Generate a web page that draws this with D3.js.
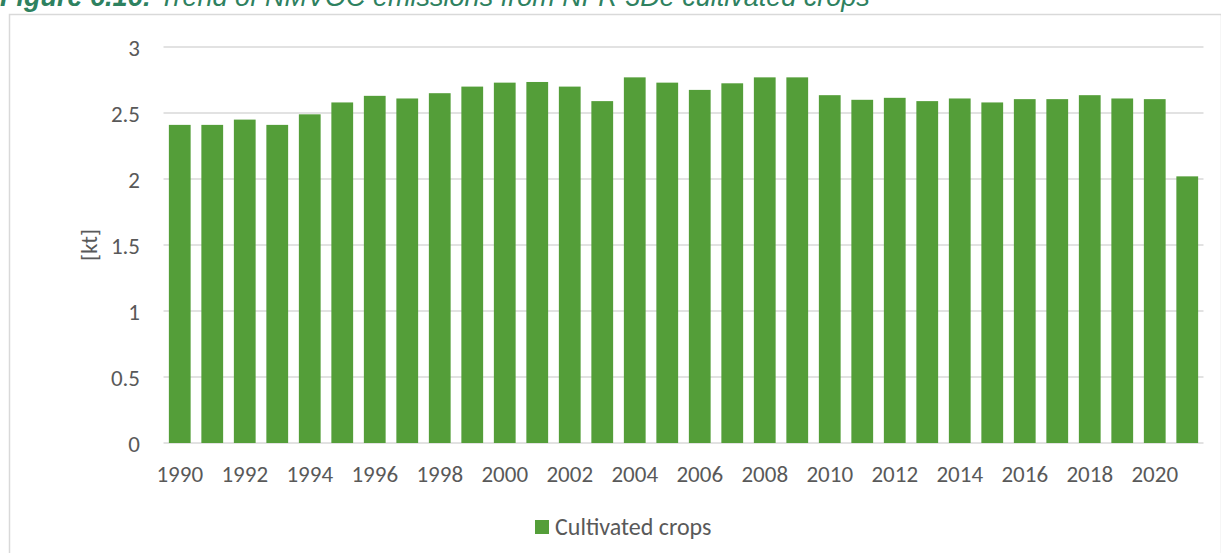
<!DOCTYPE html>
<html><head><meta charset="utf-8">
<script src="https://cdn.jsdelivr.net/npm/d3@7"></script>
<style>body{margin:0;background:#fff;} svg{display:block;}</style>
</head><body>
<svg id="c" width="1221" height="553"></svg>
<script>
const years = d3.range(1990, 2022).map(String);
const values = [2.41,2.41,2.45,2.41,2.49,2.58,2.63,2.61,2.65,2.70,2.73,2.735,2.70,2.59,2.77,2.73,2.675,2.725,2.77,2.77,2.635,2.60,2.615,2.59,2.61,2.58,2.605,2.605,2.635,2.61,2.605,2.02];
const yTicks = [0,0.5,1,1.5,2,2.5,3];
const seriesName = "Cultivated crops";
const titleBold = "Figure 6.16:";
const titleRest = " Trend of NMVOC emissions from NFR 3De cultivated crops";
const yLabel = "[kt]";

const svg = d3.select("#c");
const font = "Carlito, Calibri, Lato, 'Open Sans', sans-serif";
const txt = "#595959";
const green = "#549e39";

// chart area border
svg.append("rect").attr("x",9.5).attr("y",14.5).attr("width",1212).attr("height",600)
  .attr("fill","#fff").attr("stroke","#d9d9d9").attr("stroke-width",1.5);

// title (clipped at top)
const t = svg.append("text").attr("x",0).attr("y",5.5)
  .attr("font-family","'Liberation Sans', Arial, sans-serif").attr("font-size",27)
  .attr("font-style","italic").attr("fill","#2e8160");
t.append("tspan").attr("font-weight","bold").text(titleBold);
t.append("tspan").text(titleRest);

const m = {left:163.5, right:1203.5, top:47, bottom:443};
const x = d3.scaleBand().domain(years).range([m.left, m.right]).padding(0);
const y = d3.scaleLinear().domain([0,3]).range([m.bottom, m.top]);

// gridlines
svg.append("g").selectAll("line").data(yTicks).join("line")
  .attr("x1",m.left).attr("x2",m.right)
  .attr("y1",d=>y(d)).attr("y2",d=>y(d))
  .attr("stroke","#d9d9d9").attr("stroke-width",1.5);

// bars
const bw = x.bandwidth()*0.67;
svg.append("g").selectAll("rect").data(values).join("rect")
  .attr("x",(d,i)=>x(years[i]) + (x.bandwidth()-bw)/2)
  .attr("width",bw)
  .attr("y",d=>y(d))
  .attr("height",d=>y(0)-y(d))
  .attr("fill",green);

// y axis labels
const yAxis = d3.axisLeft(y).tickValues(yTicks).tickSize(0).tickPadding(0)
  .tickFormat(d=>d3.format("")(d));
const ya = svg.append("g").attr("transform",`translate(140,0)`).call(yAxis);
ya.select(".domain").remove();
ya.selectAll("text").attr("font-family",font).attr("font-size",23).attr("fill",txt).attr("dy","0.35em");

// x axis labels
const xAxis = d3.axisBottom(x).tickValues(years.filter((d,i)=>i%2===0)).tickSize(0).tickPadding(0);
const xa = svg.append("g").attr("transform",`translate(0,466)`).call(xAxis);
xa.select(".domain").remove();
xa.selectAll("text").attr("font-family",font).attr("font-size",23).attr("fill",txt).attr("dy","0.71em");

// y label
svg.append("text").attr("transform","translate(97,245) rotate(-90)")
  .attr("text-anchor","middle").attr("font-family",font).attr("font-size",23).attr("fill",txt).text(yLabel);

// legend
svg.append("rect").attr("x",535).attr("y",520).attr("width",14).attr("height",14).attr("fill",green);
svg.append("text").attr("x",555).attr("y",535).attr("font-family",font).attr("font-size",24).attr("fill",txt).text(seriesName);
</script>
</body></html>
